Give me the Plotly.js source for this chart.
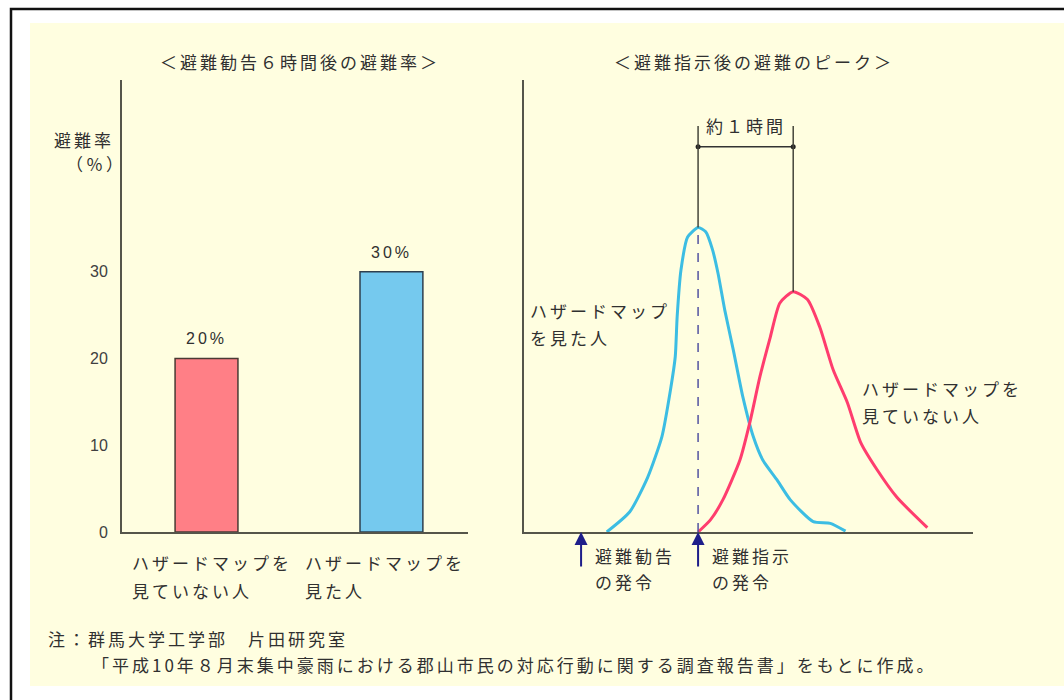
<!DOCTYPE html>
<html>
<head>
<meta charset="utf-8">
<script src="https://cdn.plot.ly/plotly-3.0.1.min.js"></script>
<style>
  html, body { margin: 0; padding: 0; background: #ffffff; }
  #chart { width: 1064px; height: 700px; }
  .annotation-text { letter-spacing: 3px; }
</style>
</head>
<body>
<div id="chart"></div>
<script>
// ---------- data ----------
const leftTitle = '＜避難勧告６時間後の避難率＞';
const rightTitle = '＜避難指示後の避難のピーク＞';
const yTitleLines = ['避難率', '（％）'];

const categories = ['ハザードマップを見ていない人', 'ハザードマップを見た人'];
const categoryLines = [['ハザードマップを', '見ていない人'], ['ハザードマップを', '見た人']];
const evacRate = [20, 30];
const rateTicks = [0, 10, 20, 30];

// hours relative to the evacuation order (避難指示)
const seenT = [-0.96, -0.72, -0.53, -0.38, -0.29, -0.24, -0.22, -0.18, -0.11, 0, 0.08, 0.15, 0.21, 0.28, 0.37, 0.47, 0.58, 0.68, 0.83, 0.97, 1.21, 1.39, 1.55];
const seenV = [0, 2.3, 6.3, 11.0, 16.4, 20.2, 24.8, 30.2, 34.0, 35.1, 34.6, 32.6, 29.8, 25.6, 21.0, 15.6, 11.0, 8.3, 6.0, 3.7, 1.2, 1.0, 0.1];
const notSeenT = [0, 0.13, 0.26, 0.44, 0.55, 0.65, 0.76, 0.86, 1.0, 1.15, 1.28, 1.42, 1.57, 1.71, 1.88, 2.09, 2.41];
const notSeenV = [0, 1.4, 3.7, 8.3, 12.9, 17.9, 22.5, 26.4, 27.7, 26.8, 23.6, 18.7, 14.9, 10.3, 7.2, 4.0, 0.5];
const seenLabel = ['ハザードマップ', 'を見た人'];
const notSeenLabel = ['ハザードマップを', '見ていない人'];

const eventT = [-1.23, 0];
const eventLines = [['避難勧告', 'の発令'], ['避難指示', 'の発令']];
const gapLabel = '約１時間';
const bracketLevel = 44.4;
const bracketTop = 46.8;

const noteLines = ['注：群馬大学工学部　片田研究室', '「平成10年８月末集中豪雨における郡山市民の対応行動に関する調査報告書」をもとに作成。'];

// ---------- styling helpers ----------
const W = 1064, H = 700;
const JP = 'Noto Sans CJK JP, sans-serif';
const TXT = '#303030';
const AX = '#55554a';
const px = v => v / W;
const py = v => 1 - v / H;

function note(text, x, y, opts) {
  return Object.assign({
    text: text, xref: 'paper', yref: 'paper', x: px(x), y: py(y),
    xanchor: 'left', yanchor: 'middle', showarrow: false,
    font: { family: JP, size: 17, color: TXT }
  }, opts || {});
}

function argmax(arr) { let k = 0; arr.forEach((v, i) => { if (v > arr[k]) k = i; }); return k; }
const bp = argmax(seenV), rp = argmax(notSeenV);
const bluePeakT = seenT[bp], bluePeakV = seenV[bp];
const redPeakT = notSeenT[rp], redPeakV = notSeenV[rp];

// ---------- traces ----------
const traces = [
  {
    type: 'bar', x: categories, y: evacRate, xaxis: 'x', yaxis: 'y',
    width: 0.34,
    marker: { color: ['#ff7f86', '#75c9ee'], line: { color: ['#4a3a34', '#2e3f4e'], width: 1.5 } },
    hoverinfo: 'skip', showlegend: false
  },
  {
    type: 'scatter', mode: 'lines', x: seenT, y: seenV, xaxis: 'x2', yaxis: 'y2',
    line: { color: '#3cbde3', width: 3, shape: 'spline', smoothing: 0.6 },
    hoverinfo: 'skip', showlegend: false
  },
  {
    type: 'scatter', mode: 'lines', x: notSeenT, y: notSeenV, xaxis: 'x2', yaxis: 'y2',
    line: { color: '#ff3d6e', width: 3, shape: 'spline', smoothing: 0.6 },
    hoverinfo: 'skip', showlegend: false
  },
  {
    type: 'scatter', mode: 'lines+markers', x: [bluePeakT, redPeakT], y: [bracketLevel, bracketLevel],
    xaxis: 'x2', yaxis: 'y2',
    line: { color: '#333', width: 1.5 }, marker: { color: '#222', size: 5 },
    hoverinfo: 'skip', showlegend: false, cliponaxis: false
  }
];

// ---------- shapes ----------
const shapes = [
  { type: 'rect', xref: 'paper', yref: 'paper', x0: px(30), x1: px(1080), y0: py(686), y1: py(23),
    fillcolor: '#fffee0', line: { width: 0 }, layer: 'below' },
  { type: 'rect', xref: 'paper', yref: 'paper', x0: px(11), x1: px(1080), y0: py(720), y1: py(9),
    fillcolor: 'rgba(0,0,0,0)', line: { color: '#111', width: 2.5 }, layer: 'below' },
  { type: 'line', xref: 'x2', yref: 'y2', x0: bluePeakT, x1: bluePeakT, y0: 0, y1: bluePeakV,
    line: { color: '#5252a0', width: 1.5, dash: 'dash' } },
  { type: 'line', xref: 'x2', yref: 'y2', x0: bluePeakT, x1: bluePeakT, y0: bluePeakV, y1: bracketTop,
    line: { color: '#45453a', width: 1.5 } },
  { type: 'line', xref: 'x2', yref: 'y2', x0: redPeakT, x1: redPeakT, y0: redPeakV, y1: bracketTop,
    line: { color: '#45453a', width: 1.5 } }
];

// ---------- annotations ----------
const annotations = [
  note(leftTitle, 158, 62),
  note(rightTitle, 612, 62),
  note(yTitleLines[0], 52, 140),
  note(yTitleLines[1], 64, 163),
  note(categoryLines[0][0], 130, 562), note(categoryLines[0][1], 130, 590),
  note(categoryLines[1][0], 303, 562), note(categoryLines[1][1], 303, 590),
  note(seenLabel[0], 528, 310), note(seenLabel[1], 528, 337),
  note(notSeenLabel[0], 860, 388), note(notSeenLabel[1], 860, 415),
  note(gapLabel, 704, 126),
  note(noteLines[0], 46, 638),
  note(noteLines[1], 90, 664)
];
categories.forEach((c, i) => {
  annotations.push({
    x: c, y: evacRate[i], xref: 'x', yref: 'y', text: evacRate[i] + '%',
    xanchor: 'center', yanchor: 'bottom', yshift: 9, showarrow: false,
    font: { family: 'Liberation Sans, Arial, sans-serif', size: 16, color: TXT }
  });
});
eventT.forEach((t, i) => {
  annotations.push({
    x: t, y: 0, xref: 'x2', yref: 'y2', text: '', showarrow: true,
    ax: 0, ay: 36, arrowhead: 2, arrowsize: 1.3, arrowwidth: 2, arrowcolor: '#1e1e8a', standoff: 0
  });
  eventLines[i].forEach((line, j) => {
    annotations.push({
      x: t, xref: 'x2', yref: 'paper', y: py(j === 0 ? 555 : 581), xshift: 12,
      text: line, xanchor: 'left', yanchor: 'middle', showarrow: false,
      font: { family: JP, size: 17, color: TXT }
    });
  });
});

// ---------- layout ----------
const yRange = [0, 52.1];
const baseAxis = { showline: true, linecolor: AX, linewidth: 2, showgrid: false, zeroline: false, fixedrange: true };
const layout = {
  width: W, height: H,
  margin: { l: 0, r: 0, t: 0, b: 0, pad: 0 },
  paper_bgcolor: '#ffffff', plot_bgcolor: 'rgba(0,0,0,0)',
  showlegend: false,
  xaxis: Object.assign({}, baseAxis, { domain: [px(122), px(468)], range: [-0.457, 1.414], showticklabels: false, ticks: '' }),
  yaxis: Object.assign({}, baseAxis, { domain: [py(532), py(80)], range: yRange, tickvals: rateTicks,
    ticks: 'outside', ticklen: 9, tickcolor: 'rgba(0,0,0,0)',
    tickfont: { family: 'Liberation Sans, Arial, sans-serif', size: 16, color: '#404040' } }),
  xaxis2: Object.assign({}, baseAxis, { domain: [px(524), px(973)], range: [-1.83, 2.89], showticklabels: false, ticks: '', anchor: 'y2' }),
  yaxis2: Object.assign({}, baseAxis, { domain: [py(532), py(80)], range: yRange, showticklabels: false, ticks: '', anchor: 'x2' }),
  shapes: shapes,
  annotations: annotations
};

Plotly.newPlot('chart', traces, layout, { staticPlot: true, displayModeBar: false });
</script>
</body>
</html>
